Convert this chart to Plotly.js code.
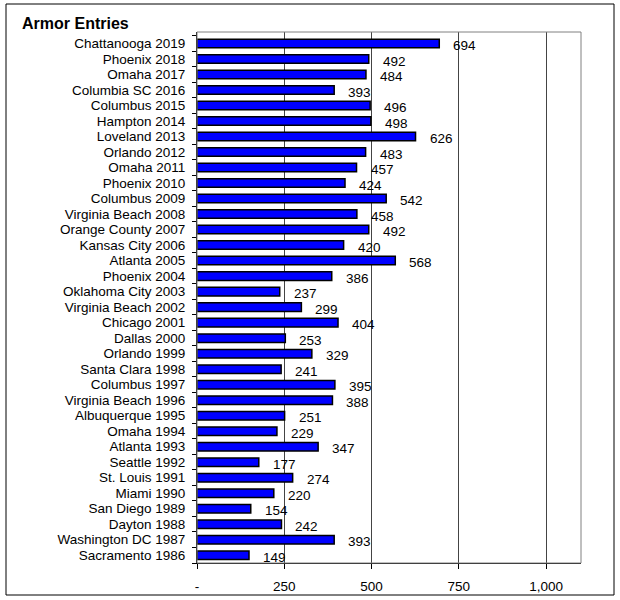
<!DOCTYPE html>
<html><head><meta charset="utf-8">
<script src="https://cdn.plot.ly/plotly-3.0.1.min.js"></script>
<style>html,body{margin:0;padding:0;background:#fff}#chart{width:620px;height:600px}</style>
</head><body><div id="chart"></div>
<script>
const categories = ["Chattanooga 2019","Phoenix 2018","Omaha 2017","Columbia SC 2016","Columbus 2015","Hampton 2014","Loveland 2013","Orlando 2012","Omaha 2011","Phoenix 2010","Columbus 2009","Virginia Beach 2008","Orange County 2007","Kansas City 2006","Atlanta 2005","Phoenix 2004","Oklahoma City 2003","Virginia Beach 2002","Chicago 2001","Dallas 2000","Orlando 1999","Santa Clara 1998","Columbus 1997","Virginia Beach 1996","Albuquerque 1995","Omaha 1994","Atlanta 1993","Seattle 1992","St. Louis 1991","Miami 1990","San Diego 1989","Dayton 1988","Washington DC 1987","Sacramento 1986"];
const entries = [694,492,484,393,496,498,626,483,457,424,542,458,492,420,568,386,237,299,404,253,329,241,395,388,251,229,347,177,274,220,154,242,393,149];
const tickVals = [0,250,500,750,1000];
const tickLabels = ["-","250","500","750","1,000"];
const chartTitle = "Armor Entries";

const font = {family:"Arial, 'Liberation Sans', sans-serif", size:13.5, color:"#000"};
const trace = {
  type:"bar", orientation:"h", x:entries, y:categories,
  marker:{color:"#0000ff", line:{color:"#000", width:1.5}},
  hoverinfo:"none"
};
const annotations = entries.map((v,i)=>({
  x:v, y:categories[i], xref:"x", yref:"y", text:String(v), showarrow:false,
  xanchor:"left", yanchor:"middle", xshift:12, yshift:-2, font:font
}));
const W=620,H=600,L=197,R=39,T=32,B=37;
const pw=W-L-R, ph=H-T-B;
const shapes = [{
  type:"rect", xref:"paper", yref:"paper",
  x0:(6-L)/pw, x1:(614-L)/pw, y0:(H-B-595)/ph, y1:(H-B-4)/ph,
  line:{color:"#000", width:1}, fillcolor:"rgba(0,0,0,0)", layer:"below"
},{
  type:"rect", xref:"paper", yref:"paper", x0:0, x1:1, y0:0, y1:1,
  line:{color:"#808080", width:1}, fillcolor:"rgba(0,0,0,0)", layer:"above"
}];
const layout = {
  width:W, height:H, margin:{l:L, r:R, t:T, b:B, pad:0},
  paper_bgcolor:"#fff", plot_bgcolor:"#fff", font:font, showlegend:false,
  title:{text:"<b>"+chartTitle+"</b>", x:22/W, xanchor:"left", xref:"container",
         y:1-23/H, yanchor:"middle", yref:"container",
         font:{family:"Arial, 'Liberation Sans', sans-serif", size:16, color:"#000"}},
  bargap:0.45,
  xaxis:{range:[0,1100], tickvals:tickVals, ticktext:tickLabels, showgrid:true,
         gridcolor:"#444", gridwidth:1, zeroline:false, showline:true, linecolor:"#000",
         linewidth:1, ticks:"outside", ticklen:5, tickcolor:"#000", tickfont:font,
         ticklabelstandoff:6, fixedrange:true},
  yaxis:{type:"category", categoryorder:"array", categoryarray:categories, autorange:"reversed",
         tickmode:"array", tickvals:categories, ticktext:categories,
         showgrid:false, zeroline:false, showline:true, linecolor:"#000", linewidth:1,
         ticks:"outside", ticklen:4, tickcolor:"#000", tickson:"boundaries", tickfont:font,
         ticklabelstandoff:8},
  annotations:annotations, shapes:shapes
};
Plotly.newPlot("chart",[trace],layout,{staticPlot:true});
</script></body></html>
